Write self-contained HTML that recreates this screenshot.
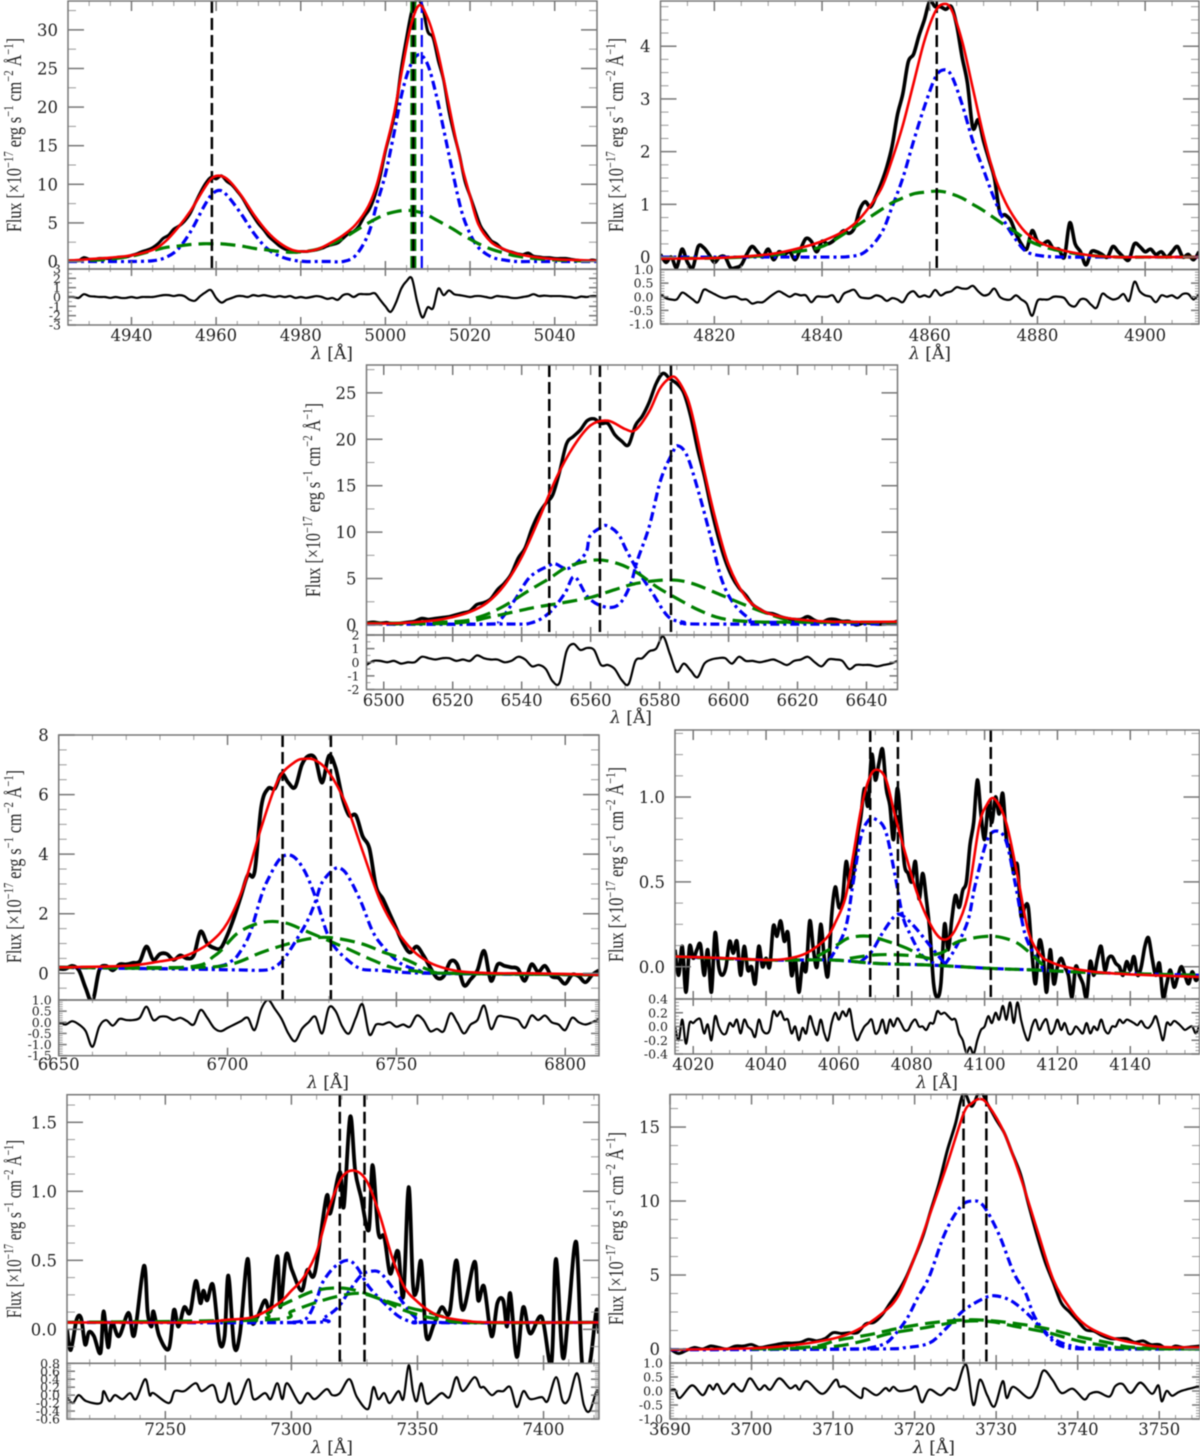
<!DOCTYPE html>
<html>
<head>
<meta charset="utf-8">
<title>Emission line fits</title>
<style>
html,body{margin:0;padding:0;background:#fff;width:1200px;height:1456px;overflow:hidden}
svg{display:block;filter:blur(.45px)}
text{font-family:"DejaVu Serif","Liberation Serif",serif;fill:#222}
.ytitle{font-family:"Liberation Serif","DejaVu Serif",serif}
.xtitle{font-family:"DejaVu Serif","Liberation Serif",serif;font-size:17px}
</style>
</head>
<body>
<svg id="figure" xmlns="http://www.w3.org/2000/svg" width="1200" height="1456" viewBox="0 0 1200 1456"></svg>
<script>
/* ---------- Panel 1: [O III] ---------- */
const p1XTicks=[4940,4960,4980,5000,5020,5040];
const p1YTicks=[0,5,10,15,20,25,30];
const p1ResTicks=[3,2,1,0,-1,-2,-3];
const p1ResLabels=["3","2","1","0","-1","-2","-3"];
const p1BlackLines=[4959,5006.6];
const p1GreenLines=[5006.6];
const p1BlueLines=[5008.6];
const p1Flux=[0,.1,.1,.5,.3,.3,.4,.4,.4,.5,.6,.6,.8,1,1.3,1.5,1.8,2.3,3,3.4,4.2,4.6,5.2,6.1,7.5,8.9,10.1,10.9,10.7,11.1,10.4,9.9,9.1,8.2,7,5.9,4.9,4.1,3.2,2.6,2,1.6,1.4,1.2,1.3,1.3,1.4,1.5,1.7,2,2.2,2.4,3,3.6,3.9,4.6,5.8,6.8,8.5,11,14.3,16.9,20,25,29,32.5,33.9,33,29.8,29,26,23.5,19.5,16.5,13.8,10.5,8.5,6.5,4.6,3.6,2.7,2.3,1.7,1.4,1.2,1,.9,1.1,.7,.6,.5,.5,.4,.4,.4,.3,.2,.1,0,.2,.1];
const p1Res=[0,0,-.1,.3,.1,.05,0,0,-.1,0,-.1,-.1,0,-.1,0,0,0,.1,.2,.2,.1,.2,.1,-.3,-.4,.1,.5,.75,-.1,-.6,-.3,-.1,.1,.1,0,.2,.1,.2,.1,0,.1,0,.1,-.1,0,-.1,0,.1,0,-.2,-.1,-.3,.2,.3,0,.3,.3,.3,.4,-.3,-1,-1.6,-.6,.9,1.7,2,-.5,-2.2,-1.1,-1.2,.9,.2,.7,.3,.2,.1,0,.1,.1,0,-.1,.1,.05,0,-.1,-.1,0,.1,.3,.1,.15,.1,.1,.1,.05,0,-.1,.05,0,.1,.1];
const p1ModelLam=[4925,4930,4935,4940,4945,4948,4951,4954,4957,4959,4961,4963,4966,4969,4972,4975,4978,4981,4984,4987,4990,4993,4996,4998,5000,5002,5004,5006,5008,5010,5012,5014,5016,5018,5020,5022,5025,5028,5031,5035,5040,5045,5050];
const p1Fit=[.1,.3,.5,.8,1.5,2.6,4.4,6.6,9.3,10.8,11.1,10.5,8.5,6,3.9,2.4,1.5,1.3,1.6,2.4,3.4,4.8,7.2,10,14.5,19,25,30.5,33.2,31.5,28,23,17.5,12.5,8.5,4.8,2.5,1.6,1,.6,.3,.2,.1];
const p1Blue=[0,0,0,0,.1,.5,1.6,3.9,7,8.7,9.2,8.3,6.1,3.6,1.7,.7,.2,0,0,0,0,.8,3.6,7.5,11.3,16.5,22,25.5,26.8,25.5,21.6,16.5,11.3,6.5,3.6,1.8,.6,.2,0,0,0,0,0];
const p1Green=[.1,.15,.3,.7,1.4,1.8,2,2.2,2.3,2.3,2.3,2.2,2,1.7,1.5,1.3,1.2,1.3,1.6,2.2,3,4,5,5.6,6.1,6.4,6.6,6.6,6.4,6,5.4,4.8,4.2,3.5,2.9,2.3,1.6,1.1,.7,.4,.2,.1,.05];

/* ---------- Panel 2: H-beta ---------- */
const p2XTicks=[4820,4840,4860,4880,4900];
const p2YTicks=[0,1,2,3,4];
const p2ResTicks=[1,.5,0,-.5,-1];
const p2ResLabels=["1.0","0.5","0.0","-0.5","-1.0"];
const p2BlackLines=[4861.3];
const p2Flux=[.05,-.1,0,-.2,.15,-.1,-.2,.2,.18,.05,-.1,0,0,-.2,-.2,-.15,.05,.2,.1,0,.15,-.05,.1,.05,.1,-.05,.15,.35,.3,.1,.3,.25,.3,.4,.5,.45,.55,.9,1.05,.95,1.15,1.4,1.7,2.1,2.7,3.1,3.7,3.85,4.2,4.5,4.85,4.75,4.75,4.7,4.75,4.4,3.8,3.3,2.45,2.6,2.2,1.85,1.5,.85,.8,.7,.45,.25,.15,.5,.3,.25,.3,.15,.15,0,.65,.25,.1,-.15,.1,.1,.05,0,.2,.1,0,-.05,.25,.2,.1,.15,.05,.1,0,.1,.2,0,.05,-.05,.1];
const p2Res=[.1,-.05,-.1,-.1,.15,.05,-.1,-.2,.25,.2,.1,0,-.05,0,0,-.1,-.1,-.25,-.2,-.2,-.05,.1,.2,.1,0,.1,.05,.05,-.2,0,0,0,.05,-.2,.1,.2,.25,0,-.05,-.05,.05,0,-.15,-.05,-.1,-.2,.1,.2,0,.05,0,.25,.05,.15,.2,.35,.3,.3,.4,.2,.05,.1,.3,0,-.1,-.1,.05,-.1,-.25,-.7,-.15,-.1,-.1,0,0,-.05,-.3,-.35,-.1,-.1,-.3,-.4,.1,0,-.1,-.05,.1,-.15,.55,.2,.05,0,-.2,.05,0,.05,-.05,.1,.1,-.1,.1];
const p2ModelLam=[4810,4820,4830,4835,4840,4845,4848,4851,4853,4855,4857,4859,4861,4862.5,4864,4866,4868,4870,4872,4874,4876,4878,4881,4885,4890,4895,4900,4910];
const p2Fit=[-.03,-.02,.05,.15,.3,.55,.85,1.3,1.85,2.5,3.3,4.1,4.65,4.8,4.7,4.1,3.2,2.3,1.55,1.05,.7,.45,.25,.12,.03,0,0,0];
const p2Blue=[0,0,0,0,0,.01,.1,.45,.95,1.5,2.2,2.85,3.4,3.55,3.45,2.9,2.2,1.65,1.1,.65,.33,.1,.02,0,0,0,0,0];
const p2Green=[-.02,-.02,.03,.1,.2,.5,.7,.9,1.03,1.12,1.2,1.23,1.25,1.24,1.2,1.12,1,.88,.74,.6,.47,.33,.2,.1,.03,0,0,0];

/* ---------- Panel 3: H-alpha + [N II] ---------- */
const p3XTicks=[6500,6520,6540,6560,6580,6600,6620,6640];
const p3YTicks=[0,5,10,15,20,25];
const p3ResTicks=[2,1,0,-1,-2];
const p3ResLabels=["2","1","0","-1","-2"];
const p3BlackLines=[6548,6562.7,6583.3];
const p3Flux=[.2,.3,.2,.25,.1,.2,.3,.4,.7,.6,.7,.8,.9,1.1,1.3,1.5,2.2,2.4,2.8,3.8,4.5,5.5,7.2,8.3,10.4,12,13.1,14,16.5,19.5,20.3,21,22,22.2,21.7,21.7,20.5,19.8,19.4,21.5,22.5,24,26,27.1,26.5,26,25,22.5,19,16,12.5,9.5,7,5.2,4,3.2,2.2,1.7,1.3,1.2,.9,.7,.6,.6,.9,.5,.3,.6,.6,.4,.4,0,.2,.2,.1,.1,.2,.4];
const p3Res=[-.2,.1,.1,0,.1,-.1,0,0,.4,.3,.2,.3,.3,.1,.2,.1,.5,.3,.2,.2,0,.1,.4,.2,-.3,-.2,-.5,-1.4,-1.5,.8,1.35,.9,1.05,.9,-.2,-.2,-.5,-1.3,-1.6,.1,.3,.8,1,1.9,.6,-.7,-.1,-.6,-1.1,-.1,.2,.3,.3,-.1,.4,.1,.1,0,.1,.2,0,-.2,.1,.2,.4,0,-.3,.2,.2,.1,-.5,-.2,-.2,-.2,-.3,-.2,-.1,.1];
const p3FitLam=[6495,6505,6515,6520,6525,6530,6535,6540,6545,6550,6555,6560,6565,6570,6573,6577,6580,6583,6585,6588,6590,6593,6596,6600,6605,6610,6615,6620,6630,6649];
const p3Fit=[.15,.2,.5,.85,1.4,2.4,4.3,7.3,11.4,15.8,19.2,21.5,22,21.1,21,23,25.4,26.6,26.5,24.5,21.8,16.5,11.7,6.5,3,1.5,.9,.6,.35,.35];
const p3BlueALam=[6495,6530,6533.6,6538,6542.5,6548,6549.7,6553.6,6558.5,6559.7,6562.5,6564.7,6568,6570.3,6573.6,6578,6582.5,6587,6591.4,6649];
const p3BlueA=[.1,.1,.5,2.7,5.2,6.4,6.6,6.1,7.7,9.5,10.4,10.7,9.8,8.1,5.9,3.4,.9,.3,.1,.1];
const p3BlueBLam=[6495,6535,6542.5,6548,6552.5,6555.3,6559.2,6563.6,6568,6571.4,6573.6,6577,6580.3,6583.7,6585.3,6588,6591.4,6594.8,6598,6601.5,6606,6609,6649];
const p3BlueB=[.1,.1,.2,1.3,3.4,5.2,3,2,2.15,4.2,7,10.6,15.6,18.5,19.3,18.2,14.2,9.5,4.9,2.3,.7,.3,.3];
const p3GreenALam=[6495,6520.3,6528,6534.7,6542.5,6548,6553.6,6561.4,6568,6573.6,6579.2,6584.8,6591.4,6598,6607,6620,6649];
const p3GreenA=[.15,.35,.9,2,3.8,5,6.3,7,6.6,5.6,4.1,2.9,1.6,.7,.35,.3,.3];
const p3GreenBLam=[6495,6520.3,6531.4,6542.5,6548,6553.6,6560.3,6567,6573.6,6582.5,6589.2,6598,6604.8,6611.5,6618,6626,6649];
const p3GreenB=[.15,.2,.9,1.8,2.15,2.5,3,3.8,4.5,4.85,4.5,3.2,2.15,1.2,.5,.35,.3];

/* ---------- Panel 4: [S II] ---------- */
const p4XTicks=[6650,6700,6750,6800];
const p4YTicks=[0,2,4,6,8];
const p4ResTicks=[1,.5,0,-.5,-1,-1.5];
const p4ResLabels=["1.0","0.5","0.0","-0.5","-1.0","-1.5"];
const p4BlackLines=[6716.3,6730.6];
const p4Flux=[.15,.15,.25,.1,-.5,-.95,.1,.25,.1,.3,.3,.35,.4,.9,.45,.65,.65,.45,.6,.5,.6,1.4,1,.85,.85,1.3,1.9,2.6,3.3,3.4,5.6,6.2,6.2,6.7,6.4,6.25,7,7.3,7.2,6.4,7.3,6.9,5.9,5.3,5.3,4.6,4.2,2.9,2.5,2,1.5,1,.7,.9,.6,.2,-.15,-.1,.4,.3,-.4,-.2,.1,.75,-.25,.3,.25,.2,.15,-.25,.3,.05,.25,-.1,-.15,-.35,-.05,-.1,-.3,-.05,.1];
const p4Res=[0,-.1,.05,-.1,-.4,-1.1,-.2,.1,-.15,.15,.1,.1,.2,.7,.1,.25,.25,.1,.2,.05,-.1,.55,.2,-.25,-.4,-.25,-.1,.05,.2,-.35,.6,1,.6,.15,-.5,-.85,-.3,0,.25,-.5,.65,.5,-.2,-.5,.2,.8,-.55,-.1,-.1,0,-.2,-.1,-.2,.3,.1,-.4,-.3,-.4,.4,0,-.5,-.1,.1,.75,-.3,.25,.25,.2,.1,-.25,.3,.1,.3,0,-.1,-.35,.2,0,-.1,0,.15];
const p4FitLam=[6650,6670,6680,6685,6690,6695,6700,6705,6710,6715,6720,6723,6726,6730,6735,6740,6745,6750,6755,6760,6765,6770,6780,6790,6810];
const p4Fit=[.2,.25,.4,.5,.7,1.05,1.7,3,4.9,6.5,7.1,7.2,7.15,6.75,5.7,4.1,2.5,1.45,.75,.35,.15,.05,0,0,-.05];
const p4BlueALam=[6650,6690,6698,6701,6703,6706.5,6710,6712.2,6715.6,6719,6722.5,6725.9,6729.3,6731.6,6735,6739.5,6745,6760,6810];
const p4BlueA=[.2,.15,.25,.4,.6,1.3,2.6,3.2,3.85,3.95,3.5,2.6,1.4,.9,.5,.15,.1,0,-.05];
const p4BlueBLam=[6650,6700,6708,6712,6714.5,6716.8,6720,6723.6,6726,6728,6731.6,6733.8,6736,6739.5,6743,6746.4,6751,6756.6,6763,6810];
const p4BlueB=[.2,.12,.1,.12,.25,.5,1.05,1.75,2.4,3.05,3.5,3.5,3.2,2.4,1.4,.85,.35,.1,0,-.05];
const p4GreenALam=[6650,6687.2,6696.3,6703,6710,6716.8,6723.6,6735,6741.8,6748.6,6755.4,6765,6810];
const p4GreenA=[.2,.2,.6,1.35,1.7,1.7,1.4,.85,.5,.2,.08,0,-.05];
const p4GreenBLam=[6650,6690,6700.9,6710,6716.8,6723.6,6730.4,6739.5,6746.4,6753,6760,6766.8,6810];
const p4GreenB=[.2,.2,.3,.7,.95,1.15,1.2,1,.7,.45,.1,0,-.05];

/* ---------- Panel 5: [S II] 4068 + H-delta ---------- */
const p5XTicks=[4020,4040,4060,4080,4100,4120,4140];
const p5YTicks=[0,.5,1];
const p5YLabels=["0.0","0.5","1.0"];
const p5ResTicks=[.4,.2,0,-.2,-.4];
const p5ResLabels=["0.4","0.2","0.0","-0.2","-0.4"];
const p5BlackLines=[4068.6,4076.2,4101.7];
const p5Flux=[.1,-.05,.12,-.15,.12,.05,.1,.13,-.05,.1,-.15,.2,0,-.05,0,.15,.08,.15,-.05,.12,-.02,0,-.1,.12,0,.05,0,.24,.18,.27,.15,.2,-.05,.05,-.15,.02,-.02,.27,.1,0,.25,.05,-.05,.3,.47,.35,.4,.62,.47,.55,.75,.88,1.05,.95,1.25,1.1,1.2,1.28,1.05,.95,.75,1.05,.85,.6,.55,.5,.62,.4,.55,.4,.2,-.1,-.18,-.1,.25,.1,.28,.42,.35,.45,.5,.72,.85,1.1,.9,.75,.95,.85,1,.9,1.02,.75,.7,.55,.6,.3,.35,.35,.08,-.1,.15,.08,-.15,.1,-.1,0,.05,0,-.05,-.18,0,-.05,-.1,-.18,.03,-.05,.05,.12,-.02,.05,.06,.02,0,-.05,.03,-.02,.06,-.05,0,.12,.17,.05,-.05,.02,-.18,-.1,-.02,-.12,-.06,0,-.05,-.1,-.03,-.08,-.05];
const p5Res=[0,-.2,.1,-.25,.05,.05,.1,.1,-.1,.03,-.2,.15,0,-.1,-.1,.05,0,.1,-.1,.1,0,-.05,-.15,.1,-.05,-.1,-.05,.22,.15,.22,.1,.1,-.1,0,-.2,-.02,-.1,.15,0,-.12,.1,-.1,-.2,.05,.2,.1,.22,.15,.25,-.05,-.2,-.1,0,.05,.1,-.1,-.05,.1,-.1,.1,0,.12,.05,-.05,-.05,.05,.1,0,0,-.05,.05,.05,.22,.18,.2,.15,.1,.1,-.1,-.2,-.38,-.3,-.4,-.2,-.05,0,.15,.05,.2,.1,.3,.1,.35,.05,.35,.1,-.1,-.2,0,.1,-.05,.05,.1,-.1,-.05,.1,-.05,.05,-.1,-.1,0,-.05,-.1,.05,-.1,0,-.05,.1,-.05,-.1,0,0,.1,.05,.1,.08,.05,.02,.08,0,-.02,.05,.15,-.02,-.2,.05,.02,.08,.05,0,-.05,-.02,0,-.1,.02];
const p5FitLam=[4015,4030,4040,4045,4050,4054,4057,4059,4061.7,4063.8,4066,4068,4070,4072.8,4075.4,4078.6,4081.7,4085.9,4089,4092,4095.4,4098.5,4100.5,4102.7,4105.9,4109,4112,4115.3,4118,4122,4130,4140,4159];
const p5Fit=[.06,.05,.04,.045,.07,.12,.18,.26,.4,.64,.92,1.09,1.16,1.11,.89,.64,.42,.22,.16,.22,.42,.83,.95,.99,.85,.54,.21,.07,.03,0,-.03,-.045,-.06];
const p5BlueBaseLam=[4015,4040,4058,4070,4085,4102,4115,4130,4159];
const p5BlueBase=[.06,.04,.04,.02,.01,-.01,-.02,-.035,-.05];
const p5GreenBaseLam=[4015,4040,4058,4070,4085,4102,4115,4130,4159];
const p5GreenBase=[.06,.04,.04,.02,.01,-.01,-.02,-.035,-.05];
const p5BlueALam=[4057.5,4061.7,4063.8,4066,4068,4070,4072.8,4075.4,4077.5,4079.6,4082.7,4086];
const p5BlueA=[.04,.22,.48,.76,.86,.87,.8,.54,.3,.19,.07,.02];
const p5BlueBLam=[4066,4069,4072,4075.4,4077.5,4080.6,4084.8,4089];
const p5BlueB=[.03,.09,.2,.3,.3,.24,.13,.02];
const p5BlueCLam=[4089,4092,4095.4,4097.4,4100.6,4103.2,4105.9,4108.5,4111,4113.7,4116];
const p5BlueC=[.01,.11,.27,.48,.74,.8,.74,.48,.2,.07,-.01];
const p5GreenALam=[4054,4059.6,4062.8,4068,4073.3,4078.5,4084];
const p5GreenA=[.06,.13,.17,.18,.15,.11,.05];
const p5GreenBLam=[4063,4070,4076.4,4082,4087];
const p5GreenB=[.05,.07,.07,.06,.04];
const p5GreenCLam=[4086,4089,4093,4101.7,4108,4112,4116];
const p5GreenC=[.07,.09,.15,.18,.15,.09,.01];

/* ---------- Panel 6: [O II] 7320/7330 ---------- */
const p6XTicks=[7250,7300,7350,7400];
const p6YTicks=[0,.5,1,1.5];
const p6YLabels=["0.0","0.5","1.0","1.5"];
const p6ResTicks=[.8,.6,.4,.2,0,-.2,-.4,-.6];
const p6ResLabels=["0.8","0.6","0.4","0.2","0.0","-0.2","-0.4","-0.6"];
const p6BlackLines=[7319.2,7329];
const p6FluxLam=[7211,7212.5,7214.8,7216.6,7218.2,7219.7,7221.7,7224.3,7225.5,7227.3,7228.8,7231.6,7235.4,7237.7,7241.5,7243,7244.5,7245.3,7247.6,7251.4,7253.4,7255.2,7257.5,7259.8,7262.1,7263.9,7265.1,7266.6,7268.9,7271.5,7273.5,7275,7277.3,7279.6,7282.6,7284.2,7286.5,7289.5,7291.8,7294.4,7295.6,7297.9,7300.2,7304,7306.3,7309.3,7313.9,7315.4,7319.2,7320.8,7323.3,7325.3,7327.6,7330.7,7332.2,7334.5,7336.8,7339,7340.6,7342.4,7344.4,7346.5,7348.2,7349.7,7351.5,7353.5,7356.6,7359.6,7362.7,7365.4,7368,7372.6,7374.1,7376.4,7379.4,7381.7,7384,7385.5,7386.8,7389.4,7391.9,7394.7,7399.3,7403.1,7404.9,7407.6,7409.9,7413,7415.3,7418.3,7421,7422];
const p6Flux=[0,-.15,.07,.08,-.11,-.02,-.05,-.17,.13,-.13,.05,-.05,.12,-.04,.46,.12,.02,.13,-.05,-.14,.14,.02,.16,.12,.35,.19,.28,.21,.32,-.09,-.05,.39,-.12,-.03,.51,.07,.09,.21,.14,.53,.16,.54,.43,.28,.43,.41,.96,.84,1.14,.89,1.54,1.15,.96,.72,1.19,.7,.67,.41,.48,.56,.24,1.03,.33,.28,.49,-.05,.04,.16,.12,.5,.14,.49,.21,.31,-.05,.19,.21,.02,.26,-.2,.16,-.03,.09,-.25,.51,-.2,.12,.63,-.25,-.25,.14,-.03];
const p6ResLam=[7211,7213.3,7215.6,7218.6,7224.3,7225.5,7227.8,7230,7233,7236,7238.4,7242,7243.8,7245.3,7251.4,7253.7,7257.5,7262,7264.4,7269,7271.2,7273.5,7275.3,7277.3,7279.6,7283,7285,7289.5,7291.8,7294.4,7296.4,7298.3,7303.2,7306.3,7309.3,7313.9,7316.2,7319.2,7323,7326,7330.4,7332.5,7334.5,7336.8,7339,7342.4,7344.4,7346.5,7348.2,7349.7,7351.5,7353.5,7356.6,7359.6,7362.7,7365.4,7368,7372.6,7374.9,7376.4,7379.4,7381.7,7384,7386.8,7389.4,7392,7394.7,7399.3,7401.6,7405,7407.6,7410,7413.3,7416,7418.3,7421,7422];
const p6Res=[-.05,-.2,0,-.15,-.2,.1,-.15,0,-.1,.05,-.1,.4,0,.05,-.2,.1,.1,.3,.1,.25,-.15,-.1,.3,-.2,-.1,.4,-.1,.05,-.1,.3,-.1,.3,-.2,.05,-.1,.15,0,.05,.4,-.05,-.35,.2,-.1,.05,-.2,.1,-.1,.75,.1,-.15,.3,-.2,-.1,.05,-.05,.45,.1,.45,.2,.2,0,.1,.1,.2,-.3,.1,-.1,-.05,-.15,.45,-.15,-.1,.55,-.25,-.4,.1,0];
const p6FitLam=[7211,7260,7275,7285,7295,7300,7305,7310,7315,7320,7325,7330,7335,7340,7345,7350,7355,7360,7370,7380,7422];
const p6Fit=[.05,.05,.07,.09,.19,.28,.38,.56,.88,1.1,1.15,1.07,.83,.52,.3,.2,.13,.09,.06,.05,.05];
const p6BlueALam=[7211,7295,7300,7306,7310,7312.4,7317,7322.3,7326,7330.7,7336.8,7342.9,7349,7355,7422];
const p6BlueA=[.05,.05,.05,.08,.22,.34,.45,.5,.45,.31,.19,.09,.05,.05,.05];
const p6BlueBLam=[7211,7306,7312.4,7318.5,7323,7327.6,7331.4,7335.2,7339.8,7344.4,7349,7355,7422];
const p6BlueB=[.05,.05,.08,.16,.28,.39,.42,.41,.31,.19,.09,.05,.05];
const p6GreenALam=[7211,7283.4,7291,7300.2,7309.3,7318.5,7326,7335.2,7344.4,7353.5,7361,7370,7422];
const p6GreenA=[.05,.07,.13,.21,.28,.3,.28,.22,.14,.09,.07,.05,.05];
const p6GreenBLam=[7211,7291,7300,7309,7318.5,7327.6,7336.8,7346,7355,7364,7370,7422];
const p6GreenB=[.05,.07,.13,.19,.24,.26,.21,.16,.12,.07,.05,.05];

/* ---------- Panel 7: [O II] 3726/3729 ---------- */
const p7XTicks=[3690,3700,3710,3720,3730,3740,3750];
const p7YTicks=[0,5,10,15];
const p7ResTicks=[1,.5,0,-.5,-1];
const p7ResLabels=["1.0","0.5","0.0","-0.5","-1.0"];
const p7BlackLines=[3726,3728.8];
const p7Flux=[0,-.3,-.1,.1,0,.2,.1,0,.2,.2,.3,.1,.2,.3,.4,.4,.45,.65,.55,.7,1.1,1.05,1.1,1.1,1.7,1.8,2.3,3.1,3.9,4.9,6.2,7.6,9.4,11.2,13.4,15.2,17.3,16.4,17.4,16.5,15.5,14.6,13.2,11.8,9.7,7.7,5.9,4.5,3.1,2.5,1.9,1.3,1.2,.9,.7,.7,.7,.45,.55,.3,.3,0,.2,.1,.15,.2];
const p7ResLam=[3690,3690.6,3691.2,3692.7,3694,3694.8,3695.3,3695.8,3696.6,3697.7,3698.1,3698.9,3699.8,3700.9,3701.6,3702.3,3703.4,3704.7,3705.4,3705.9,3706.8,3708.7,3710.3,3710.8,3711.5,3713.4,3713.8,3715.3,3716.4,3716.9,3717.4,3718.1,3719.5,3720.2,3720.9,3721.8,3723.2,3724.2,3725.1,3726.3,3727.2,3728,3728.9,3729.8,3730.8,3731.3,3732.1,3734,3735,3735.8,3736.9,3738,3739.4,3740.8,3741.5,3742.5,3743.9,3744.6,3745.5,3746.5,3747.7,3749.1,3749.9,3750.3,3750.9,3751.6,3752.6,3754.9];
const p7Res=[0,.05,-.25,.2,-.15,.2,.05,.25,-.1,.25,.15,0,.45,.05,.2,.05,.45,.1,.2,.05,.35,-.1,.4,.15,.15,-.25,.1,-.15,.1,0,.15,0,.05,.15,-.4,.05,-.15,.1,.08,.95,-.5,.4,-.15,-.55,.35,-.25,.15,-.25,.1,.73,.4,-.07,.08,-.3,-.1,-.04,-.2,.17,.25,-.07,.3,-.1,.2,-.37,0,-.17,-.01,.17];
const p7FitLam=[3690,3700,3705,3710,3713,3716,3718,3720,3722,3724,3726,3727,3728,3729,3731,3733,3735,3737,3739,3741,3744,3747,3750,3755];
const p7Fit=[-.05,.05,.25,.7,1.3,2.4,3.6,6.2,9.3,12.5,15.9,16.6,16.9,16.5,14.6,11.6,8.1,4.7,2.8,1.6,.8,.4,.15,.1];
const p7BlueALam=[3690,3712,3714.5,3716.3,3717.3,3719,3720.4,3721.8,3723.7,3725.6,3727,3728.4,3730.3,3732.2,3733.6,3734.7,3736.4,3738.3,3742,3755];
const p7BlueA=[-.05,0,.08,.35,.8,2,3.5,4.9,7.8,9.6,10,9.7,7.8,5.1,3.8,2.2,.85,.15,0,0];
const p7BlueBLam=[3690,3715,3719,3721.8,3723.7,3726,3728.4,3729.8,3731.7,3733.6,3735.4,3737.3,3739.7,3742,3755];
const p7BlueB=[-.05,0,.1,.4,1.3,2.6,3.4,3.6,3.3,2.5,1.5,.6,.15,.05,0];
const p7GreenALam=[3700,3707.3,3710.6,3714.3,3718,3721.8,3725.6,3728.4,3732,3736,3740,3744,3747,3755];
const p7GreenA=[0,.15,.6,.95,1.4,1.75,1.95,1.95,1.75,1.4,.85,.4,.1,0];
const p7GreenBLam=[3702,3709.6,3713.4,3717,3721.4,3725.6,3729.3,3732.6,3736.4,3739.7,3742.5,3746.2,3755];
const p7GreenB=[0,.15,.5,1.05,1.45,1.85,1.85,1.5,1.1,.6,.3,.05,0];

/* ---------- Layout (positions live here, not in the data arrays) ---------- */
const figure=[
 {name:"oiii",l:68,r:597,top:1,mid:269,bot:325,xr:[4925,5050],yr:[-.97,33.74],res:[-3,3],xTicks:p1XTicks,xMinor:5,yTicks:p1YTicks,yLabels:p1YTicks,yMinor:2.5,resTicks:p1ResTicks,resLabels:p1ResLabels,resMinor:.5,
  flux:{vals:p1Flux},resid:{vals:p1Res},fit:[p1ModelLam,p1Fit],blue:[[p1ModelLam,p1Blue]],green:[[p1ModelLam,p1Green]],
  lines:{black:p1BlackLines,green:p1GreenLines,blue:p1BlueLines},title:[14,232,38],xLabelY:341,xTitle:[332,359],fluxW:3},
 {name:"hbeta",l:660.5,r:1199,top:1,mid:269.5,bot:324,xr:[4810,4910],yr:[-.236,4.858],res:[-1,1],xTicks:p2XTicks,xMinor:5,yTicks:p2YTicks,yLabels:p2YTicks,yMinor:.25,resTicks:p2ResTicks,resLabels:p2ResLabels,resMinor:.1,
  flux:{vals:p2Flux},resid:{vals:p2Res},fit:[p2ModelLam,p2Fit],blue:[[p2ModelLam,p2Blue]],green:[[p2ModelLam,p2Green]],
  lines:{black:p2BlackLines,green:[],blue:[]},title:[616,232,38],xLabelY:341,xTitle:[930,359],fluxW:3.6},
 {name:"halpha",l:366.5,r:897.5,top:365,mid:635,bot:689.5,xr:[6495,6649],yr:[-1.08,28],res:[-2,2],xTicks:p3XTicks,xMinor:5,yTicks:p3YTicks,yLabels:p3YTicks,yMinor:2.5,resTicks:p3ResTicks,resLabels:p3ResLabels,resMinor:.5,
  flux:{vals:p3Flux},resid:{vals:p3Res},fit:[p3FitLam,p3Fit],blue:[[p3BlueALam,p3BlueA],[p3BlueBLam,p3BlueB]],green:[[p3GreenALam,p3GreenA],[p3GreenBLam,p3GreenB]],
  lines:{black:p3BlackLines,green:[],blue:[]},title:[313,597,403],xLabelY:706,xTitle:[631,723],fluxW:3.4},
 {name:"sii",l:58.7,r:599,top:735,mid:1000,bot:1055.7,xr:[6650,6810],yr:[-.896,8],res:[-1.5,1],xTicks:p4XTicks,xMinor:10,yTicks:p4YTicks,yLabels:p4YTicks,yMinor:.5,resTicks:p4ResTicks,resLabels:p4ResLabels,resMinor:.1,
  flux:{vals:p4Flux},resid:{vals:p4Res},fit:[p4FitLam,p4Fit],blue:[[p4BlueALam,p4BlueA],[p4BlueBLam,p4BlueB]],green:[[p4GreenALam,p4GreenA],[p4GreenBLam,p4GreenB]],
  lines:{black:p4BlackLines,green:[],blue:[]},title:[14,963,770],xLabelY:1070,xTitle:[328,1088],fluxW:3.8},
 {name:"hdelta",l:675,r:1199.5,top:730,mid:999,bot:1054,xr:[4015,4159],yr:[-.19,1.395],res:[-.4,.4],xTicks:p5XTicks,xMinor:5,yTicks:p5YTicks,yLabels:p5YLabels,yMinor:.125,resTicks:p5ResTicks,resLabels:p5ResLabels,resMinor:.05,
  flux:{vals:p5Flux},resid:{vals:p5Res},fit:[p5FitLam,p5Fit],blue:[[p5BlueBaseLam,p5BlueBase],[p5BlueALam,p5BlueA],[p5BlueBLam,p5BlueB],[p5BlueCLam,p5BlueC]],green:[[p5GreenBaseLam,p5GreenBase],[p5GreenALam,p5GreenA],[p5GreenBLam,p5GreenB],[p5GreenCLam,p5GreenC]],
  lines:{black:p5BlackLines,green:[],blue:[]},title:[616,962,767],xLabelY:1070,xTitle:[937,1088],fluxW:3.6},
 {name:"oii-red",l:67,r:599,top:1094.7,mid:1363.3,bot:1419,xr:[7211,7422],yr:[-.246,1.7],res:[-.6,.8],xTicks:p6XTicks,xMinor:10,yTicks:p6YTicks,yLabels:p6YLabels,yMinor:.125,resTicks:p6ResTicks,resLabels:p6ResLabels,resMinor:.05,
  flux:{lam:p6FluxLam,vals:p6Flux},resid:{lam:p6ResLam,vals:p6Res},fit:[p6FitLam,p6Fit],blue:[[p6BlueALam,p6BlueA],[p6BlueBLam,p6BlueB]],green:[[p6GreenALam,p6GreenA],[p6GreenBLam,p6GreenB]],
  lines:{black:p6BlackLines,green:[],blue:[]},title:[14,1318,1140],xLabelY:1435,xTitle:[332,1453],fluxW:3.8},
 {name:"oii-blue",l:670,r:1200,top:1094.5,mid:1363,bot:1419,xr:[3690,3755],yr:[-.946,17.2],res:[-1,1],xTicks:p7XTicks,xMinor:2,yTicks:p7YTicks,yLabels:p7YTicks,yMinor:1.25,resTicks:p7ResTicks,resLabels:p7ResLabels,resMinor:.1,
  flux:{vals:p7Flux},resid:{lam:p7ResLam,vals:p7Res},fit:[p7FitLam,p7Fit],blue:[[p7BlueALam,p7BlueA],[p7BlueBLam,p7BlueB]],green:[[p7GreenALam,p7GreenA],[p7GreenBLam,p7GreenB]],
  lines:{black:p7BlackLines,green:[],blue:[]},title:[616,1325,1132],xLabelY:1435,xTitle:[934,1453],fluxW:3}
];

const NS="http://www.w3.org/2000/svg";
const svg=document.getElementById("figure");
function mk(tag,attrs,parent){
  const e=document.createElementNS(NS,tag);
  for(const k in attrs)e.setAttribute(k,attrs[k]);
  parent.appendChild(e);
  return e;
}
function smooth(pts){
  let d="M"+pts[0][0].toFixed(2)+" "+pts[0][1].toFixed(2);
  for(let i=0;i<pts.length-1;i++){
    const a=pts[Math.max(i-1,0)],b=pts[i],c=pts[i+1],e=pts[Math.min(i+2,pts.length-1)];
    const c1x=b[0]+(c[0]-a[0])/6,c1y=b[1]+(c[1]-a[1])/6,c2x=c[0]-(e[0]-b[0])/6,c2y=c[1]-(e[1]-b[1])/6;
    d+="C"+c1x.toFixed(2)+" "+c1y.toFixed(2)+" "+c2x.toFixed(2)+" "+c2y.toFixed(2)+" "+c[0].toFixed(2)+" "+c[1].toFixed(2);
  }
  return d;
}
function drawCurve(parent,d,style,name){
  const path=mk("path",Object.assign({d:d,fill:"none","stroke-linejoin":"round"},style),parent);
  
  
  return path;
}
function tick(parent,x1,y1,x2,y2,major,name){
  const t=mk("line",{x1:x1,y1:y1,x2:x2,y2:y2,stroke:major?"#777":"#999","stroke-width":major?1.5:1},parent);
  
  
}
function label(parent,x,y,str,size,anchor,name){
  const t=mk("text",{x:x,y:y,"font-size":size,"text-anchor":anchor},parent);
  t.textContent=str;
  
  
}
function yTitle(parent,cfg){
  const len=cfg[1]-cfg[2];
  const t=mk("text",{"class":"ytitle",transform:"translate("+(cfg[0]+7)+","+cfg[1]+") rotate(-90)",textLength:len,lengthAdjust:"spacingAndGlyphs"},parent);
  
  
  const parts=[["Flux [×10",0],["−17",1],[" erg s",0],["−1",1],[" cm",0],["−2",1],[" Å",0],["−1",1],["]",0]];
  let prev=0;
  parts.forEach(p=>{
    const s=mk("tspan",{dy:(prev-p[1])*8,"font-size":p[1]?14:21},t);
    s.textContent=p[0];
    prev=p[1];
  });
}
function xTitle(parent,cfg){
  const t=mk("text",{"class":"xtitle",x:cfg[0],y:cfg[1],"text-anchor":"middle"},parent);
  
  
  const a=mk("tspan",{"font-style":"italic"},t);
  a.textContent="λ";
  const b=mk("tspan",{},t);
  b.textContent=" [Å]";
}

figure.forEach((p,idx)=>{
  const g=mk("g",{},svg);
  
  
  const X=v=>p.l+(v-p.xr[0])/(p.xr[1]-p.xr[0])*(p.r-p.l);
  const Y=v=>p.mid-(v-p.yr[0])/(p.yr[1]-p.yr[0])*(p.mid-p.top);
  const R=v=>p.bot-(v-p.res[0])/(p.res[1]-p.res[0])*(p.bot-p.mid);
  const defs=mk("defs",{},g);
  const c1=mk("clipPath",{id:"main"+idx},defs);
  mk("rect",{x:p.l,y:p.top-1,width:p.r-p.l,height:p.mid-p.top+1},c1);
  const c2=mk("clipPath",{id:"res"+idx},defs);
  mk("rect",{x:p.l,y:p.mid,width:p.r-p.l,height:p.bot-p.mid},c2);

  const main=mk("g",{"clip-path":"url(#main"+idx+")"},g);
  
  
  const resid=mk("g",{"clip-path":"url(#res"+idx+")"},g);
  
  

  const lamOf=(s,i)=>s.lam?s.lam[i]:p.xr[0]+i*(p.xr[1]-p.xr[0])/(s.vals.length-1);
  const fluxPts=p.flux.vals.map((v,i)=>[X(lamOf(p.flux,i)),Y(v)]);
  drawCurve(main,smooth(fluxPts),{stroke:"#000","stroke-width":p.fluxW},"observed-flux-line");

  p.blue.forEach(s=>{
    drawCurve(main,smooth(s[0].map((l,i)=>[X(l),Y(s[1][i])])),{stroke:"#0000f5","stroke-width":3.2,"stroke-dasharray":"9 4 3 4"},"narrow-component-line");
  });
  p.green.forEach(s=>{
    drawCurve(main,smooth(s[0].map((l,i)=>[X(l),Y(s[1][i])])),{stroke:"#008000","stroke-width":3.2,"stroke-dasharray":"15 7"},"broad-component-line");
  });
  p.lines.green.forEach(l=>{
    drawCurve(main,"M"+X(l)+" "+p.top+"V"+p.mid,{stroke:"#008000","stroke-width":6,"stroke-dasharray":"12 5"},"green-rest-wavelength-line");
  });
  p.lines.black.forEach(l=>{
    drawCurve(main,"M"+X(l)+" "+p.top+"V"+p.mid,{stroke:"#000","stroke-width":2.5,"stroke-dasharray":"12 5"},"rest-wavelength-line");
  });
  p.lines.blue.forEach(l=>{
    drawCurve(main,"M"+X(l)+" "+p.top+"V"+p.mid,{stroke:"#0000f5","stroke-width":2.2,"stroke-dasharray":"12 5"},"blue-rest-wavelength-line");
  });
  drawCurve(main,smooth(p.fit[0].map((l,i)=>[X(l),Y(p.fit[1][i])])),{stroke:"#f50000","stroke-width":2.6},"total-fit-line");

  const resPts=p.resid.vals.map((v,i)=>[X(lamOf(p.resid,i)),R(v)]);
  drawCurve(resid,smooth(resPts),{stroke:"#000","stroke-width":2.2},"residual-line");

  /* x ticks */
  const first=Math.ceil(p.xr[0]/p.xMinor)*p.xMinor;
  for(let v=first;v<=p.xr[1];v+=p.xMinor){
    const maj=p.xTicks.includes(v),x=X(v);
    if(x>p.r)continue;
    tick(g,x,p.top,x,p.top+(maj?10:5),maj,"x-tick");
    tick(g,x,p.mid,x,p.mid-(maj?8:4),maj,"x-tick");
    tick(g,x,p.mid,x,p.mid+(maj?7:3),maj,"x-tick");
    tick(g,x,p.bot,x,p.bot-(maj?8:4),maj,"x-tick");
  }
  p.xTicks.forEach(v=>label(g,X(v),p.xLabelY,String(v),16.5,"middle","x-tick-label"));

  /* main y ticks */
  const ny=Math.floor((p.yr[1]-p.yr[0])/p.yMinor)+1;
  const y0=Math.ceil(p.yr[0]/p.yMinor)*p.yMinor;
  for(let i=0;i<ny;i++){
    const v=y0+i*p.yMinor;
    if(v>p.yr[1])break;
    const maj=p.yTicks.some(t=>Math.abs(t-v)<1e-6),y=Y(v);
    tick(g,p.l,y,p.l+(maj?16:8),y,maj,"y-tick");
    tick(g,p.r,y,p.r-(maj?16:8),y,maj,"y-tick");
  }
  p.yTicks.forEach((v,i)=>label(g,p.l-10,Y(v)+6,String(p.yLabels[i]),16.5,"end","y-tick-label"));

  /* residual y ticks */
  const nr=Math.round((p.res[1]-p.res[0])/p.resMinor);
  for(let i=0;i<=nr;i++){
    const v=p.res[0]+i*p.resMinor;
    const maj=p.resTicks.some(t=>Math.abs(t-v)<1e-6),y=R(v);
    tick(g,p.l,y,p.l+(maj?8:4),y,maj,"residual-y-tick");
    tick(g,p.r,y,p.r-(maj?8:4),y,maj,"residual-y-tick");
  }
  p.resTicks.forEach((v,i)=>label(g,p.l-7,R(v)+4.5,p.resLabels[i],12.5,"end","residual-tick-label"));

  /* frames */
  const f1=mk("rect",{x:p.l,y:p.top,width:p.r-p.l,height:p.mid-p.top,fill:"none",stroke:"#777","stroke-width":1.5},g);
  
  
  const f2=mk("rect",{x:p.l,y:p.mid,width:p.r-p.l,height:p.bot-p.mid,fill:"none",stroke:"#777","stroke-width":1.5},g);
  
  

  yTitle(g,p.title);
  xTitle(g,p.xTitle);
});
</script>
</body>
</html>
